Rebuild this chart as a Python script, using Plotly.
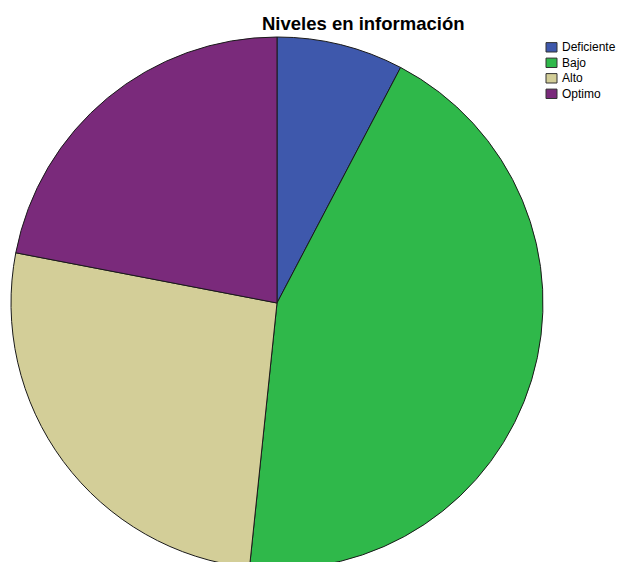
import plotly.graph_objects as go

labels = ["Deficiente", "Bajo", "Alto", "Optimo"]
values = [7, 40, 24, 20]
colors = ["#3E58AC", "#2FB84A", "#D3CE98", "#7A2A7B"]

W, H = 618, 569

def px(x):
    return x / W

def py(y):
    return 1 - y / H

fig = go.Figure(go.Pie(
    labels=labels, values=values, sort=False, direction="clockwise", rotation=0,
    marker=dict(colors=colors, line=dict(color="#1a1a1a", width=1)),
    textinfo="none", hoverinfo="label+percent",
    domain=dict(x=[px(11), px(543)], y=[0, py(37)]),
))

shapes = []
annotations = []
for i, (lab, col) in enumerate(zip(labels, colors)):
    yc = 47.3 + i * 15.5
    shapes.append(dict(type="rect", xref="paper", yref="paper",
                       x0=px(546), x1=px(557), y0=py(yc - 4.7), y1=py(yc + 4.7),
                       fillcolor=col, line=dict(color="#333333", width=1)))
    annotations.append(dict(text=lab, xref="paper", yref="paper", x=px(559.5), y=py(yc),
                            xanchor="left", yanchor="middle", showarrow=False,
                            font=dict(size=12, color="black",
                                      family="Liberation Sans, Arial, sans-serif")))

annotations.append(dict(text="<b>Niveles en información</b>", xref="paper", yref="paper",
                        x=px(363.5), y=py(23.5), xanchor="center", yanchor="middle",
                        showarrow=False,
                        font=dict(size=18.5, color="black",
                                  family="Liberation Sans, Arial, sans-serif")))

fig.update_layout(
    width=W, height=H,
    margin=dict(l=0, r=0, t=0, b=0),
    paper_bgcolor="white",
    showlegend=False,
    shapes=shapes,
    annotations=annotations,
    font=dict(family="Liberation Sans, Arial, sans-serif", color="black"),
)
fig.write_html("out.html", post_script="document.body.style.overflow='hidden';document.documentElement.style.overflow='hidden';")
